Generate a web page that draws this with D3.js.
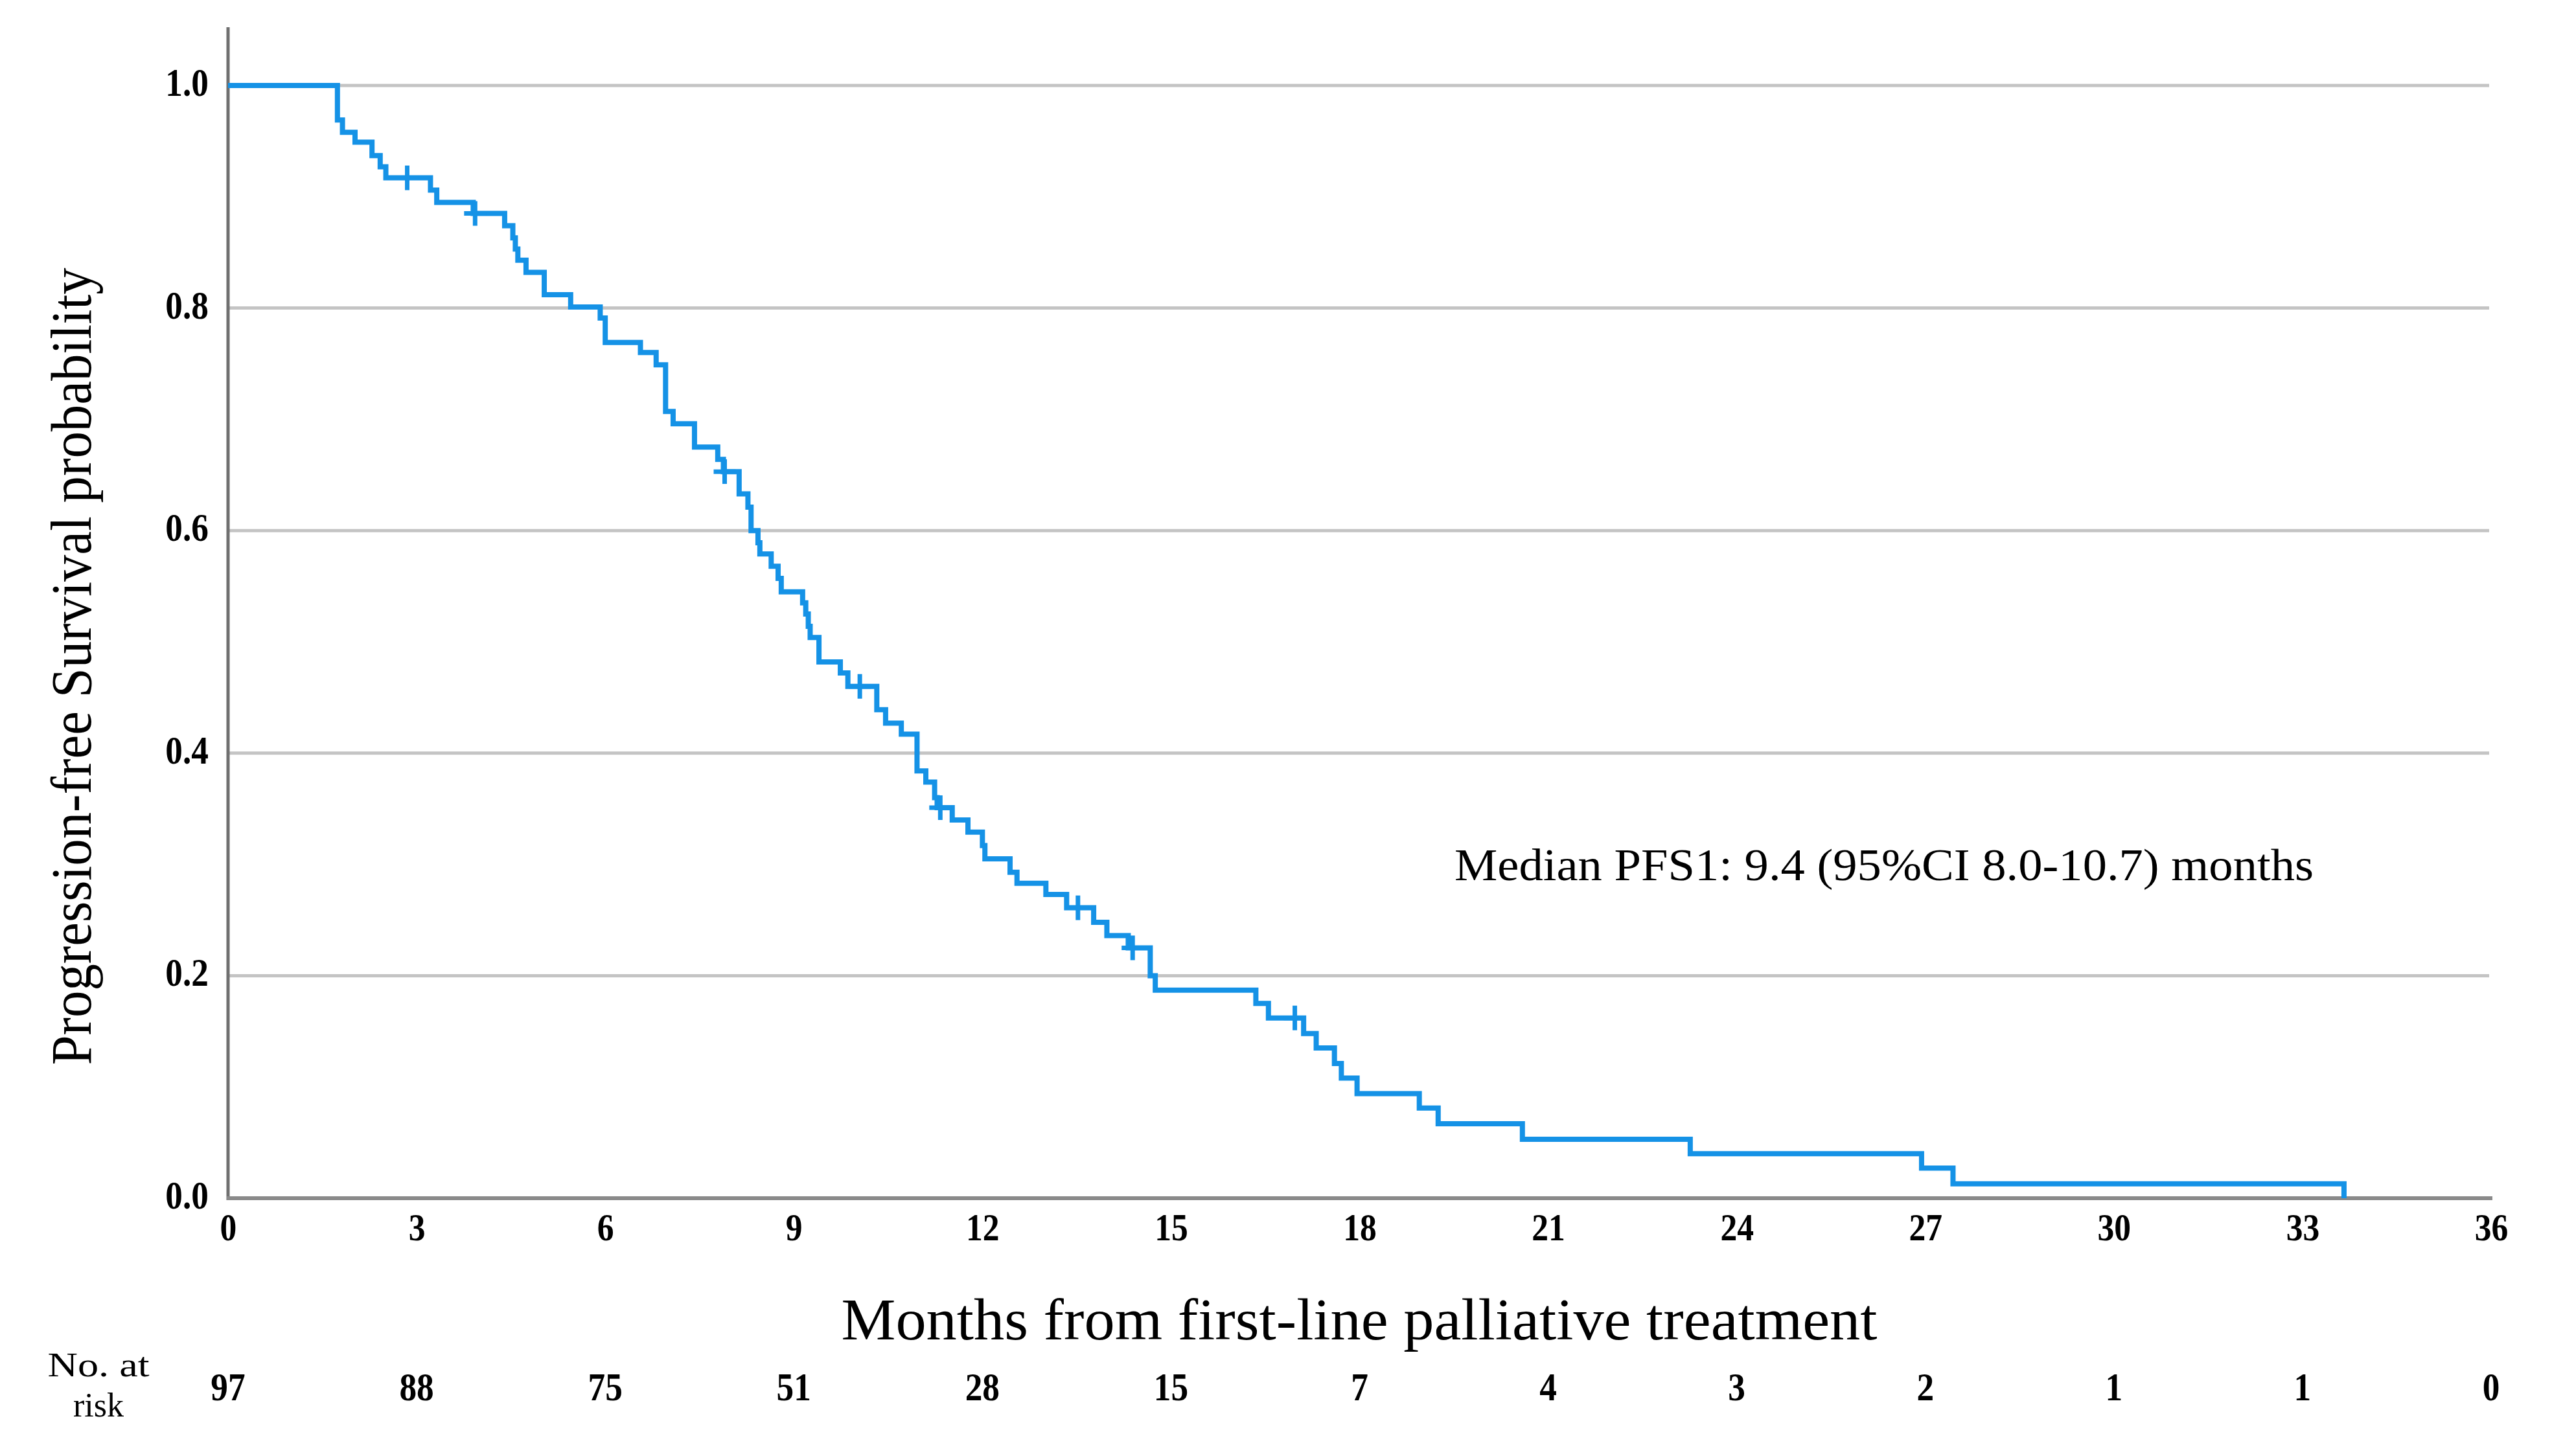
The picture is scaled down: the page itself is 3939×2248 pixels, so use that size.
<!DOCTYPE html>
<html>
<head>
<meta charset="utf-8">
<script src="https://cdn.jsdelivr.net/npm/d3@7"></script>
<style>
  body { margin: 0; background: #fff; }
  svg { display: block; }
</style>
</head>
<body>
<div id="chart"></div>
<script>
// Kaplan-Meier steps: time of drop (months) and survival after it
const stepTimes = [1.74, 1.82, 2.02, 2.29, 2.42, 2.51, 3.22, 3.32, 3.90, 4.40, 4.53, 4.57, 4.61, 4.74,
    5.03, 5.45, 5.92, 6.00, 6.56, 6.81, 6.96, 7.08, 7.42, 7.79, 7.88, 8.13, 8.27, 8.32, 8.43, 8.46,
    8.64, 8.75, 8.80, 9.14, 9.19, 9.23, 9.26, 9.40, 9.74, 9.86, 10.32, 10.46, 10.71, 10.96, 11.10,
    11.24, 11.28, 11.52, 11.77, 12.00, 12.04, 12.44, 12.55, 13.01, 13.34, 13.77, 13.98, 14.32, 14.67,
    14.75, 16.35, 16.55, 17.11, 17.31, 17.60, 17.71, 17.96, 18.95, 19.25, 20.59, 23.26, 26.94, 27.44, 33.66];
const stepSurv = [0.969, 0.958, 0.949, 0.937, 0.927, 0.917, 0.906, 0.895, 0.885, 0.874, 0.863, 0.853, 0.843, 0.832,
    0.812, 0.801, 0.791, 0.769, 0.760, 0.749, 0.707, 0.696, 0.675, 0.664, 0.653, 0.633, 0.621, 0.600, 0.589, 0.579,
    0.568, 0.557, 0.545, 0.535, 0.525, 0.514, 0.504, 0.482, 0.472, 0.460, 0.439, 0.427, 0.417, 0.384, 0.374,
    0.360, 0.351, 0.340, 0.329, 0.317, 0.305, 0.293, 0.283, 0.273, 0.261, 0.248, 0.236, 0.225, 0.200,
    0.187, 0.175, 0.162, 0.148, 0.135, 0.121, 0.108, 0.094, 0.081, 0.067, 0.053, 0.040, 0.027, 0.013, 0.0];
const censorTimes = [2.85, 3.93, 7.90, 10.05, 11.33, 13.52, 14.39, 16.97];

const xTicks = [0, 3, 6, 9, 12, 15, 18, 21, 24, 27, 30, 33, 36];
const yTicks = [0.0, 0.2, 0.4, 0.6, 0.8, 1.0];
const riskCounts = [97, 88, 75, 51, 28, 15, 7, 4, 3, 2, 1, 1, 0];

const yTitle = "Progression-free Survival probability";
const xTitle = "Months from first-line palliative treatment";
const medianNote = "Median PFS1: 9.4 (95%CI 8.0-10.7) months";

function drawChart() {
    const width = 3939;
    const height = 2248;
    const serif = "'Liberation Serif', 'Times New Roman', serif";
    const squeeze = "scale(0.86,1)";

    const svg = d3.select("#chart")
        .append("svg")
        .attr("width", width)
        .attr("height", height);

    const x = d3.scaleLinear().domain([0, 36]).range([352, 3845]);
    const y = d3.scaleLinear().domain([0, 1]).range([1850, 132]);

    // horizontal grid lines
    svg.append("g")
        .selectAll("line")
        .data(yTicks.filter(d => d > 0))
        .enter().append("line")
        .attr("x1", x(0))
        .attr("x2", x(36) - 3)
        .attr("y1", d => y(d))
        .attr("y2", d => y(d))
        .attr("stroke", "#c4c4c4")
        .attr("stroke-width", 5);

    // y axis (labels only, line drawn below)
    const yAxis = svg.append("g")
        .attr("transform", `translate(${x(0)},0)`)
        .call(d3.axisLeft(y).tickValues(yTicks).tickFormat(d3.format(".1f")).tickSize(0));
    yAxis.select(".domain").remove();
    yAxis.selectAll("text")
        .attr("x", -35)
        .attr("dy", "0.25em")
        .attr("transform", squeeze)
        .style("font-family", serif)
        .style("font-weight", "bold")
        .style("font-size", "62px")
        .style("fill", "#000");

    // x axis labels
    const xAxis = svg.append("g")
        .attr("transform", `translate(0,${y(0)})`)
        .call(d3.axisBottom(x).tickValues(xTicks).tickFormat(d3.format("d")).tickSize(0));
    xAxis.select(".domain").remove();
    xAxis.selectAll("text")
        .attr("y", 65)
        .attr("dy", 0)
        .attr("transform", squeeze)
        .style("font-family", serif)
        .style("font-weight", "bold")
        .style("font-size", "60px")
        .style("fill", "#000");

    // axis lines
    svg.append("line")
        .attr("x1", x(0)).attr("x2", x(0))
        .attr("y1", 42).attr("y2", y(0) + 3)
        .attr("stroke", "#707070")
        .attr("stroke-width", 5);
    svg.append("line")
        .attr("x1", x(0) - 2).attr("x2", x(36) + 2)
        .attr("y1", y(0)).attr("y2", y(0))
        .attr("stroke", "#8a8a8a")
        .attr("stroke-width", 6);

    // survival curve
    const points = [[0, 1]].concat(stepTimes.map((t, i) => [t, stepSurv[i]]));
    const line = d3.line()
        .x(d => x(d[0]))
        .y(d => y(d[1]))
        .curve(d3.curveStepAfter);

    svg.append("path")
        .datum(points)
        .attr("fill", "none")
        .attr("stroke", "#1592e6")
        .attr("stroke-width", 8)
        .attr("d", line);

    // censor marks
    function survAt(t) {
        let s = 1;
        stepTimes.forEach((st, i) => { if (st <= t) s = stepSurv[i]; });
        return s;
    }
    const marks = svg.append("g")
        .attr("stroke", "#1592e6")
        .attr("stroke-width", 7)
        .selectAll("g")
        .data(censorTimes)
        .enter().append("g")
        .attr("transform", d => `translate(${x(d)},${y(survAt(d))})`);
    marks.append("line").attr("x1", -17).attr("x2", 17).attr("y1", 0).attr("y2", 0);
    marks.append("line").attr("x1", 0).attr("x2", 0).attr("y1", -19).attr("y2", 19);

    // titles
    svg.append("text")
        .attr("transform", `translate(140,1029) rotate(-90)`)
        .attr("text-anchor", "middle")
        .attr("textLength", 1231)
        .attr("lengthAdjust", "spacingAndGlyphs")
        .style("font-family", serif)
        .style("font-size", "88px")
        .text(yTitle);

    svg.append("text")
        .attr("x", 2098)
        .attr("y", 2068)
        .attr("text-anchor", "middle")
        .attr("textLength", 1599)
        .attr("lengthAdjust", "spacingAndGlyphs")
        .style("font-family", serif)
        .style("font-size", "91px")
        .text(xTitle);

    svg.append("text")
        .attr("x", 2245)
        .attr("y", 1359)
        .attr("textLength", 1326)
        .attr("lengthAdjust", "spacingAndGlyphs")
        .style("font-family", serif)
        .style("font-size", "70px")
        .text(medianNote);

    // number at risk row
    const risk = svg.append("g");
    risk.append("text")
        .attr("x", 152).attr("y", 2125)
        .attr("text-anchor", "middle")
        .attr("textLength", 157)
        .attr("lengthAdjust", "spacingAndGlyphs")
        .style("font-family", serif)
        .style("font-size", "52px")
        .text("No. at");
    risk.append("text")
        .attr("x", 152).attr("y", 2187)
        .attr("text-anchor", "middle")
        .style("font-family", serif)
        .style("font-size", "52px")
        .text("risk");

    risk.selectAll(".count")
        .data(riskCounts)
        .enter().append("text")
        .attr("class", "count")
        .attr("transform", (d, i) => `translate(${x(xTicks[i])},2162) ${squeeze}`)
        .attr("text-anchor", "middle")
        .style("font-family", serif)
        .style("font-weight", "bold")
        .style("font-size", "62px")
        .text(d => d);
}

drawChart();
</script>
</body>
</html>
